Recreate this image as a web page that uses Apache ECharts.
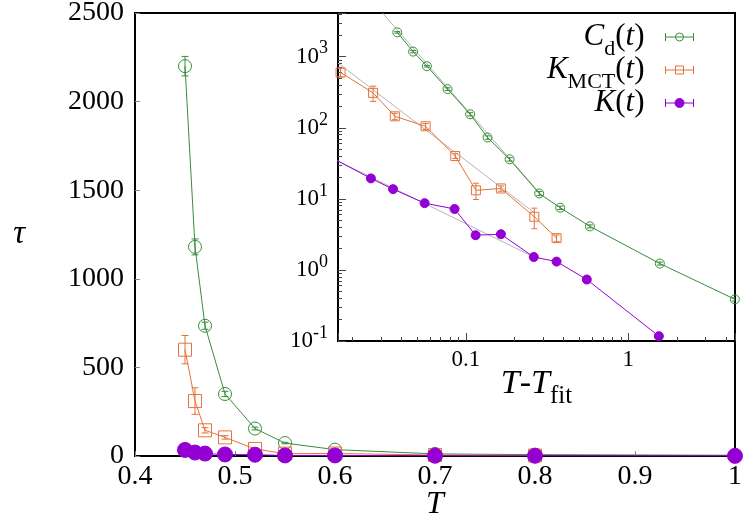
<!DOCTYPE html>
<html>
<head>
<meta charset="utf-8">
<script src="https://cdn.jsdelivr.net/npm/echarts@6/dist/echarts.min.js"></script>
<style>
  html, body { margin: 0; background: #fff; }
  #chart { width: 750px; height: 525px; }
</style>
</head>
<body>
<div id="chart"></div>
<script>
// temperatures of the main panel
const temps = [0.45, 0.46, 0.47, 0.49, 0.52, 0.55, 0.6, 0.7, 0.8, 1.0];

// C_d(t)
const cdTau = [2200, 1180, 735, 350, 155, 73, 36, 11.9, 7.5, 4.1, 1.23, 0.386];
const cdErr = [55, 45, 20, 15, 8, 4, 2, 0.8, 0.4, 0.2, 0.06, 0.02];
const cdDT = [0.0378, 0.0473, 0.0575, 0.0771, 0.1063, 0.136, 0.186, 0.283, 0.381, 0.581, 1.567, 4.54];

// K_MCT(t)
const kmctTau = [600, 310, 145, 105, 40, 13.2, 14, 5.6, 2.8];
const kmctErr = [80, 75, 15, 10, 3, 3.4, 1.2, 1.8, 0.3];
const kmctDT = [0.0169, 0.0268, 0.0365, 0.0565, 0.086, 0.1153, 0.1644, 0.264, 0.362];

// K(t)
const kTau = [34.3, 19.4, 13.7, 8.7, 7.2, 3.08, 3.18, 1.52, 1.31, 0.733, 0.117];
const kErr = [1.5, 0.8, 0.5, 0.3, 0.3, 0.15, 0.15, 0.08, 0.06, 0.04, 0.01];
const kDT = [0.0162, 0.026, 0.0356, 0.0557, 0.0852, 0.1148, 0.1644, 0.262, 0.362, 0.556, 1.545];

// power-law fits (grey lines), end points
const cdFitX = [0.0307, 0.29];
const cdFitY = [4100, 11.5];
const kmctFitX = [0.0163, 0.26];
const kmctFitY = [815, 6.56];
const kFitX = [0.0162, 0.262];
const kFitY = [34.3, 1.52];

const mainYTicks = [0, 500, 1000, 1500, 2000, 2500];

const serif = 'Liberation Serif';
const GREEN = '#3a8c3a';
const ORANGE = '#e4733a';
const PURPLE = '#9400d3';
const GREY = '#b4b4b4';

const pairs = (xs, ys) => ys.slice(0, xs.length).map((y, i) => [xs[i], y]);

const errorBars = (xs, ys, errs, color, idx, cap) => ({
  type: 'custom',
  xAxisIndex: idx,
  yAxisIndex: idx,
  silent: true,
  clip: true,
  z: 3,
  data: ys.slice(0, xs.length).map((y, i) => [xs[i], y - errs[i], y + errs[i]]),
  renderItem: (params, api) => {
    const lo = api.coord([api.value(0), api.value(1)]);
    const hi = api.coord([api.value(0), api.value(2)]);
    const st = { stroke: color, lineWidth: 1 };
    return {
      type: 'group',
      children: [
        { type: 'line', shape: { x1: lo[0], y1: lo[1], x2: hi[0], y2: hi[1] }, style: st },
        { type: 'line', shape: { x1: lo[0] - cap, y1: lo[1], x2: lo[0] + cap, y2: lo[1] }, style: st },
        { type: 'line', shape: { x1: hi[0] - cap, y1: hi[1], x2: hi[0] + cap, y2: hi[1] }, style: st }
      ]
    };
  }
});

const lineSeries = (name, data, color, symbol, filled, size, idx) => ({
  name: name,
  type: 'line',
  xAxisIndex: idx,
  yAxisIndex: idx,
  data: data,
  symbol: symbol,
  symbolSize: size,
  showSymbol: true,
  lineStyle: { color: color, width: 1 },
  itemStyle: { color: filled ? color : 'rgba(0,0,0,0)', borderColor: color, borderWidth: 1 },
  emphasis: { disabled: true },
  z: 4
});

const fitSeries = (xs, ys) => ({
  type: 'line',
  xAxisIndex: 1,
  yAxisIndex: 1,
  data: pairs(xs, ys),
  symbol: 'none',
  lineStyle: { color: GREY, width: 1 },
  silent: true,
  z: 2
});

const legendRich = {
  i: { fontStyle: 'italic', fontFamily: serif, fontSize: 31, color: '#000' },
  n: { fontFamily: serif, fontSize: 31, color: '#000' },
  s: { fontFamily: serif, fontSize: 22, color: '#000', lineHeight: 22, padding: [24, 0, 0, 0] },
  g: { width: 16, fontFamily: serif, fontSize: 22, lineHeight: 22, padding: [24, 0, 0, 0] }
};

const legendLabels = {
  Cd: '{i|C}{s|d}{n|(}{i|t}{n|)}{g| }',
  KMCT: '{i|K}{s|MCT}{n|(}{i|t}{n|)}{g| }',
  K: '{i|K}{n|(}{i|t}{n|)}{g| }'
};

const makeLegend = (name, top, icon, itemStyle, color) => ({
  orient: 'vertical',
  right: 56,
  top: top,
  padding: 0,
  align: 'right',
  itemWidth: 28,
  itemHeight: 12,
  selectedMode: false,
  inactiveColor: itemStyle.color,
  inactiveBorderColor: color,
  data: [{ name: name, icon: icon, itemStyle: itemStyle }],
  formatter: n => legendLabels[n],
  textStyle: { rich: legendRich }
});

const barPath = 'M0 6 L28 6 M0 2 L0 10 M28 2 L28 10';
const circleIcon = 'path://' + barPath + ' M18 6 A4 4 0 1 1 10 6 A4 4 0 1 1 18 6 Z';
const squareIcon = 'path://' + barPath + ' M10 2 L18 2 L18 10 L10 10 Z';
const dotIcon = 'path://' + barPath + ' M18.5 6 A4.5 4.5 0 1 1 9.5 6 A4.5 4.5 0 1 1 18.5 6 Z';

const option = {
  animation: false,
  backgroundColor: '#fff',
  grid: [
    { left: 135, top: 13, right: 15, bottom: 69, show: true, borderColor: '#000', borderWidth: 2, backgroundColor: 'transparent', outerBoundsMode: 'none' },
    { left: 338, top: 13, right: 15, bottom: 184, show: true, borderColor: '#000', borderWidth: 2, backgroundColor: '#fff', outerBoundsMode: 'none' }
  ],
  legend: [
    makeLegend('Cd', 14, circleIcon, { color: 'rgba(0,0,0,0)', borderColor: GREEN, borderWidth: 1 }, GREEN),
    makeLegend('KMCT', 47, squareIcon, { color: 'rgba(0,0,0,0)', borderColor: ORANGE, borderWidth: 1 }, ORANGE),
    makeLegend('K', 80, dotIcon, { color: PURPLE, borderColor: PURPLE, borderWidth: 1 }, PURPLE)
  ],
  xAxis: [
    {
      gridIndex: 0, type: 'value', min: 0.4, max: 1, interval: 0.1,
      axisLine: { show: false },
      axisTick: { inside: true, length: 5, lineStyle: { color: '#888' } },
      splitLine: { show: false },
      axisLabel: { margin: 7, fontSize: 28, fontFamily: serif, color: '#000' },
      name: 'T', nameLocation: 'middle', nameGap: 33, nameMoveOverlap: false,
      nameTextStyle: { fontSize: 32, fontStyle: 'italic', fontFamily: serif, color: '#000' }
    },
    {
      gridIndex: 1, type: 'log', logBase: 10, min: 0.0163, max: 4.55,
      axisLine: { show: false },
      axisTick: { inside: true, length: 8, lineStyle: { color: '#444' } },
      minorTick: { show: true, splitNumber: 9, length: 4, lineStyle: { color: '#444' } },
      splitLine: { show: false },
      axisLabel: {
        margin: 7, fontSize: 23, fontFamily: serif, color: '#000',
        formatter: v => Math.abs(v - 0.1) < 1e-9 ? '0.1' : (Math.abs(v - 1) < 1e-9 ? '1' : '')
      },
      name: '{i|T}{n|-}{i|T}{s|fit}', nameLocation: 'middle', nameGap: 26, nameMoveOverlap: false,
      nameTextStyle: {
        rich: {
          i: { fontStyle: 'italic', fontFamily: serif, fontSize: 34, color: '#000' },
          n: { fontFamily: serif, fontSize: 34, color: '#000' },
          s: { fontFamily: serif, fontSize: 25, color: '#000', lineHeight: 25, padding: [24, 0, 0, 0] }
        }
      }
    }
  ],
  yAxis: [
    {
      gridIndex: 0, type: 'value', min: 0, max: 2500, interval: 500,
      axisLine: { show: false },
      axisTick: { inside: true, length: 5, lineStyle: { color: '#888' } },
      splitLine: { show: false },
      axisLabel: { margin: 11, fontSize: 28, fontFamily: serif, color: '#000', formatter: v => mainYTicks.includes(v) ? String(v) : '' },
      name: 'τ', nameLocation: 'middle', nameRotate: 0, nameGap: 110, nameMoveOverlap: false,
      nameTextStyle: { fontSize: 33, fontStyle: 'italic', fontFamily: serif, color: '#000', padding: [0, 0, 14, 0] }
    },
    {
      gridIndex: 1, type: 'log', logBase: 10, min: 0.1, max: 4120,
      axisLine: { show: false },
      axisTick: { inside: true, length: 8, lineStyle: { color: '#444' } },
      minorTick: { show: true, splitNumber: 9, length: 4, lineStyle: { color: '#444' } },
      splitLine: { show: false },
      axisLabel: {
        margin: 10,
        formatter: v => {
          const e = Math.log10(v);
          if (Math.abs(e - Math.round(e)) > 1e-6) return '';
          return '{b|10}{p|' + Math.round(e) + '}';
        },
        rich: {
          b: { fontSize: 23, fontFamily: serif, color: '#000' },
          p: { fontSize: 18, fontFamily: serif, color: '#000', lineHeight: 18, padding: [0, 0, 16, 0] }
        }
      }
    }
  ],
  series: [
    // main panel
    lineSeries('Cd', pairs(temps, cdTau), GREEN, 'circle', false, 13, 0),
    lineSeries('KMCT', pairs(temps, kmctTau), ORANGE, 'rect', false, 13, 0),
    lineSeries('K', pairs(temps, kTau), PURPLE, 'circle', true, 15, 0),
    errorBars(temps, cdTau, cdErr, GREEN, 0, 3.5),
    errorBars(temps, kmctTau, kmctErr, ORANGE, 0, 3.5),
    // inset
    fitSeries(cdFitX, cdFitY),
    fitSeries(kmctFitX, kmctFitY),
    fitSeries(kFitX, kFitY),
    lineSeries('Cd', pairs(cdDT, cdTau), GREEN, 'circle', false, 9, 1),
    lineSeries('KMCT', pairs(kmctDT, kmctTau), ORANGE, 'rect', false, 9, 1),
    lineSeries('K', pairs(kDT, kTau), PURPLE, 'circle', true, 9, 1),
    errorBars(cdDT, cdTau, cdErr, GREEN, 1, 3),
    errorBars(kmctDT, kmctTau, kmctErr, ORANGE, 1, 3)
  ]
};

const chart = echarts.init(document.getElementById('chart'), null, { renderer: 'canvas' });
chart.setOption(option);
</script>
</body>
</html>
